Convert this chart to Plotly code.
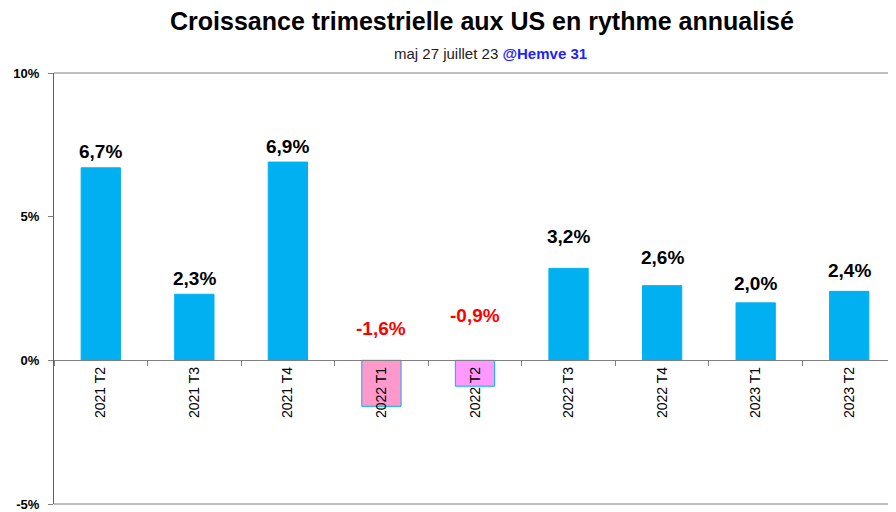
import plotly.graph_objects as go

categories = ["2021 T2", "2021 T3", "2021 T4", "2022 T1", "2022 T2",
              "2022 T3", "2022 T4", "2023 T1", "2023 T2"]
growth = [6.7, 2.3, 6.9, -1.6, -0.9, 3.2, 2.6, 2.0, 2.4]
value_labels = ["6,7%", "2,3%", "6,9%", "-1,6%", "-0,9%", "3,2%", "2,6%", "2,0%", "2,4%"]
y_tickvals = [-5, 0, 5, 10]
y_ticktext = ["-5%", "0%", "5%", "10%"]

# styling
pos_color = "#00b0f0"
neg_colors = {"2022 T1": "#ff99cc", "2022 T2": "#ff99ff"}
bar_colors = [neg_colors.get(c, pos_color) for c in categories]
label_shift = [4, 3, 3, 19, 32, 19, 16, 7, 8]  # pixel offsets of the labels

fig = go.Figure()
fig.add_trace(go.Bar(
    x=categories, y=growth, width=0.42,
    marker=dict(color=bar_colors, line=dict(color=pos_color, width=1)),
    hoverinfo="skip",
))

for c, v, t, s in zip(categories, growth, value_labels, label_shift):
    fig.add_annotation(
        x=c, y=max(v, 0), text=f"<b>{t}</b>", showarrow=False,
        yanchor="bottom", yshift=s,
        font=dict(family="Liberation Sans, Arial", size=19,
                  color="#ff0000" if v < 0 else "#000000"),
    )

fig.add_annotation(
    xref="paper", yref="paper", x=0.508, y=1.0, yshift=52, yanchor="middle",
    borderpad=0,
    text="<b>Croissance trimestrielle aux US en rythme annualisé</b>",
    showarrow=False, font=dict(family="Liberation Sans, Arial", size=25, color="#000000"),
)
fig.add_annotation(
    xref="paper", yref="paper", x=0.518, y=1.0, yshift=20, yanchor="middle",
    text="maj 27 juillet 23 <b><span style='color:#1f1fff'>@Hemve 31</span></b>",
    showarrow=False, font=dict(family="Liberation Sans Narrow, Liberation Sans, Arial", size=15, color="#222222"),
)

# frame lines at top and bottom of the plot area
for yy in (0, 1):
    fig.add_shape(type="line", xref="paper", yref="paper", x0=0, x1=1, y0=yy, y1=yy,
                  line=dict(color="#808080", width=1))

fig.update_layout(
    width=888, height=504,
    margin=dict(l=46, r=0, t=65, b=8, autoexpand=False),
    paper_bgcolor="white", plot_bgcolor="white",
    showlegend=False, bargap=0.58,
    xaxis=dict(
        type="category", anchor="free", position=1/3, automargin=False,
        showline=True, linecolor="#808080", linewidth=1,
        ticks="outside", tickson="boundaries", ticklen=5, tickcolor="#808080",
        tickangle=-90, showgrid=False,
        tickfont=dict(family="Liberation Sans, Arial", size=14, color="#000000"),
        range=[-0.5, 8.5],
    ),
    yaxis=dict(
        range=[-5, 10], tickvals=y_tickvals, ticktext=y_ticktext, automargin=False,
        showline=True, linecolor="#606060", linewidth=1,
        ticks="outside", ticklen=5, tickcolor="#808080", ticklabelstandoff=6,
        showgrid=False, zeroline=False,
        tickfont=dict(family="Liberation Sans, Arial", size=13, color="#000000", weight="bold"),
    ),
)

fig.write_html("out.html")
